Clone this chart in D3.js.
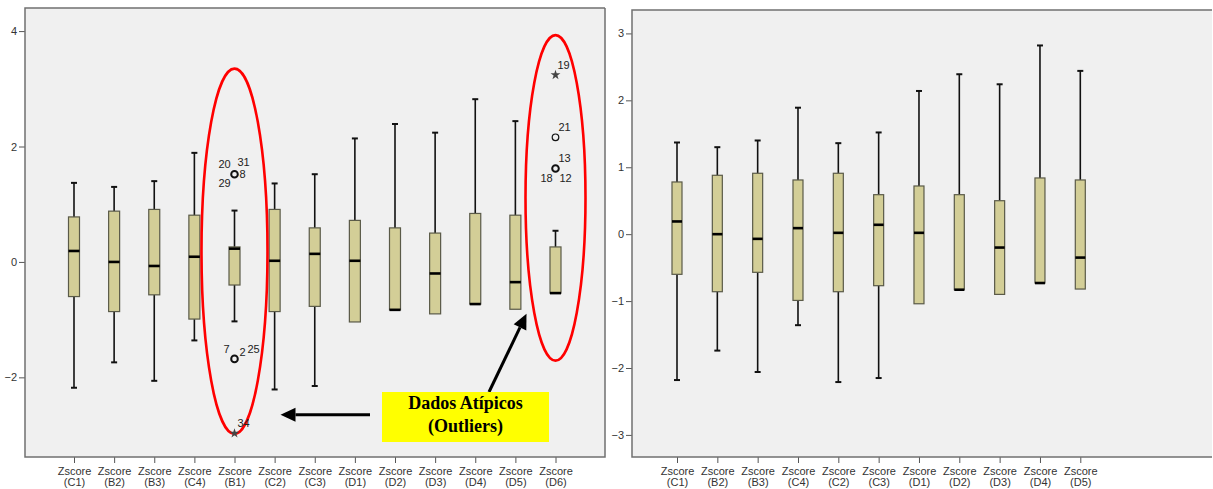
<!DOCTYPE html>
<html>
<head>
<meta charset="utf-8">
<script src="https://cdn.jsdelivr.net/npm/d3@7"></script>
<style>
  body { margin: 0; background: #fff; }
  svg { display: block; font-family: Arial, "Liberation Sans", sans-serif; }
  .tick text { fill: #333; font-size: 11px; }
  .tick line { stroke: #555; }
</style>
</head>
<body>
<div id="chart"></div>
<script>
// box plot statistics (z-scores)
var categories = ["C1", "B2", "B3", "C4", "B1", "C2", "C3", "D1", "D2", "D3", "D4", "D5", "D6"];
var whiskerHigh = [1.37, 1.30, 1.40, 1.89, 0.89, 1.36, 1.52, 2.14, 2.39, 2.24, 2.82, 2.44, 0.54];
var q3 = [0.78, 0.88, 0.91, 0.81, 0.26, 0.91, 0.59, 0.72, 0.59, 0.50, 0.84, 0.81, 0.26];
var median = [0.19, 0.00, -0.07, 0.09, 0.23, 0.02, 0.14, 0.02, -0.83, -0.20, -0.73, -0.35, -0.54];
var q1 = [-0.60, -0.86, -0.57, -0.99, -0.40, -0.86, -0.77, -1.04, -0.83, -0.90, -0.73, -0.82, -0.54];
var whiskerLow = [-2.18, -1.74, -2.06, -1.36, -1.03, -2.21, -2.15, -1.04, -0.83, -0.90, -0.73, -0.82, -0.54];

// right chart drops the two variables with outliers
var rightCategories = ["C1", "B2", "B3", "C4", "C2", "C3", "D1", "D2", "D3", "D4", "D5"];

// outliers (left chart only)
var outlierCat = ["B1", "B1", "B1", "D6", "D6", "D6"];
var outlierValue = [1.52, -1.68, -2.97, 3.24, 2.16, 1.62];
var outlierShape = ["circle", "circle", "star", "star", "circle", "circle"];
var outlierIds = [["20", "31", "8", "29"], ["7", "2", "25"], ["34"], ["19"], ["21"], ["13", "18", "12"]];

var leftTicks = [-2, 0, 2, 4];
var rightTicks = [-3, -2, -1, 0, 1, 2, 3];

// label offsets around each outlier marker (px)
var idOffsets = [
  [[-10, -10], [9, -12], [8, 0], [-10, 9]],
  [[-8, -10], [8, -7], [19, -10]],
  [[9, -10]],
  [[8, -10]],
  [[9, -10]],
  [[9, -10], [-9, 10], [10, 10]]
];

var boxFill = "#d3ce97";
var bg = "#f0f0f0";

var svg = d3.select("#chart").append("svg")
  .attr("width", 1213)
  .attr("height", 489);

var stats = categories.map(function(c, i) {
  return { cat: c, hi: whiskerHigh[i], q3: q3[i], med: median[i], q1: q1[i], lo: whiskerLow[i] };
});

function drawPanel(opts) {
  var g = svg.append("g");
  var x = d3.scalePoint().domain(opts.cats).range(opts.xRange);
  var y = d3.scaleLinear().domain(opts.yDomain).range([opts.bottom, opts.top]);

  g.append("rect")
    .attr("x", opts.left).attr("y", opts.top)
    .attr("width", opts.right - opts.left).attr("height", opts.bottom - opts.top)
    .attr("fill", bg);

  var data = stats.filter(function(d) { return opts.cats.indexOf(d.cat) >= 0; });
  var bw = opts.boxWidth;

  var boxes = g.selectAll(".box").data(data).enter().append("g").attr("class", "box");

  // whiskers
  boxes.append("line")
    .attr("x1", d => x(d.cat)).attr("x2", d => x(d.cat))
    .attr("y1", d => y(d.hi)).attr("y2", d => y(d.q3))
    .attr("stroke", "#111").attr("stroke-width", 1.6);
  boxes.append("line")
    .attr("x1", d => x(d.cat)).attr("x2", d => x(d.cat))
    .attr("y1", d => y(d.q1)).attr("y2", d => y(d.lo))
    .attr("stroke", "#111").attr("stroke-width", 1.6);
  // caps
  boxes.filter(d => d.hi > d.q3).append("line")
    .attr("x1", d => x(d.cat) - 3).attr("x2", d => x(d.cat) + 3)
    .attr("y1", d => y(d.hi)).attr("y2", d => y(d.hi))
    .attr("stroke", "#111").attr("stroke-width", 2);
  boxes.filter(d => d.lo < d.q1).append("line")
    .attr("x1", d => x(d.cat) - 3).attr("x2", d => x(d.cat) + 3)
    .attr("y1", d => y(d.lo)).attr("y2", d => y(d.lo))
    .attr("stroke", "#111").attr("stroke-width", 2);

  boxes.append("rect")
    .attr("x", d => x(d.cat) - bw / 2)
    .attr("y", d => y(d.q3))
    .attr("width", bw)
    .attr("height", d => y(d.q1) - y(d.q3))
    .attr("fill", boxFill)
    .attr("stroke", "#5a5a48")
    .attr("stroke-width", 1.2);

  boxes.append("line")
    .attr("x1", d => x(d.cat) - bw / 2).attr("x2", d => x(d.cat) + bw / 2)
    .attr("y1", d => y(d.med)).attr("y2", d => y(d.med))
    .attr("stroke", "#000").attr("stroke-width", 2.6);

  // y axis
  var yAxis = g.append("g")
    .attr("transform", "translate(" + opts.left + ",0)")
    .call(d3.axisLeft(y).tickValues(opts.ticks).tickSize(6).tickPadding(2).tickFormat(d3.format("d")));
  yAxis.select(".domain").remove();

  // x axis
  var xAxis = g.append("g")
    .attr("transform", "translate(0," + opts.bottom + ")")
    .call(d3.axisBottom(x).tickSize(6).tickFormat(""));
  xAxis.select(".domain").remove();
  xAxis.selectAll(".tick").each(function(d) {
    var t = d3.select(this).append("text")
      .attr("fill", "#333").attr("font-size", "10.5px").attr("text-anchor", "middle");
    t.append("tspan").attr("x", 0).attr("y", 18).text("Zscore");
    t.append("tspan").attr("x", 0).attr("y", 28.5).text("(" + d + ")");
  });

  // frame
  g.append("path")
    .attr("d", "M" + opts.right + "," + opts.top + "H" + opts.left + "V" + opts.bottom + "H" + opts.right + (opts.closeRight ? "V" + opts.top : ""))
    .attr("fill", "none").attr("stroke", "#707070").attr("stroke-width", 1.5);

  return { g: g, x: x, y: y };
}

var L = drawPanel({
  cats: categories, xRange: [74, 555.5], yDomain: [-3.38, 4.4],
  left: 25, right: 605, top: 8, bottom: 457, ticks: leftTicks, boxWidth: 11, closeRight: true
});

var R = drawPanel({
  cats: rightCategories, xRange: [677, 1080.3], yDomain: [-3.33, 3.35],
  left: 632, right: 1212, top: 10, bottom: 457, ticks: rightTicks, boxWidth: 10, closeRight: false
});

// red ellipses around the outliers
var rings = [
  { cat: "B1", top: 3.35, bottom: -2.98, rx: 33 },
  { cat: "D6", top: 3.93, bottom: -1.71, rx: 30 }
];

// outliers
var out = outlierValue.map(function(v, i) {
  return { cat: outlierCat[i], v: v, shape: outlierShape[i], ids: outlierIds[i], off: idOffsets[i] };
});
var og = L.g.selectAll(".outlier").data(out).enter().append("g")
  .attr("class", "outlier")
  .attr("transform", d => "translate(" + L.x(d.cat) + "," + L.y(d.v) + ")");
og.filter(d => d.shape === "circle").append("circle")
  .attr("r", 3.3).attr("fill", "none").attr("stroke", "#111")
  .attr("stroke-width", d => d.ids.length > 1 ? 2 : 1.2);
og.each(function(d) {
  var sel = d3.select(this);
  d.ids.forEach(function(id, k) {
    sel.append("text")
      .attr("x", d.off[k][0]).attr("y", d.off[k][1])
      .attr("dy", "0.35em")
      .attr("text-anchor", "middle")
      .attr("font-size", "11px").attr("fill", "#222")
      .text(id);
  });
});

L.g.selectAll(".ring").data(rings).enter().append("ellipse")
  .attr("cx", d => L.x(d.cat))
  .attr("cy", d => (L.y(d.top) + L.y(d.bottom)) / 2)
  .attr("rx", d => d.rx)
  .attr("ry", d => (L.y(d.bottom) - L.y(d.top)) / 2)
  .attr("fill", "none").attr("stroke", "#f00").attr("stroke-width", 2.6);

// stars drawn above the ring line
og.filter(d => d.shape === "star").append("path")
  .attr("d", d3.symbol().type(d3.symbolStar).size(30))
  .attr("fill", "#444");
og.filter(d => d.shape === "star").raise();

// callout
var note = L.g.append("g");
function arrow(x1, y1, x2, y2) {
  var a = Math.atan2(y2 - y1, x2 - x1), len = 15, hw = 7;
  var bx = x2 - len * Math.cos(a), by = y2 - len * Math.sin(a);
  note.append("line").attr("x1", x1).attr("y1", y1).attr("x2", bx).attr("y2", by)
    .attr("stroke", "#000").attr("stroke-width", 3);
  note.append("path")
    .attr("d", "M" + x2 + "," + y2 +
      "L" + (bx + hw * Math.sin(a)) + "," + (by - hw * Math.cos(a)) +
      "L" + (bx - hw * Math.sin(a)) + "," + (by + hw * Math.cos(a)) + "Z")
    .attr("fill", "#000");
}
arrow(370, L.y(-2.65), L.x("B1") + 46, L.y(-2.65));
arrow(489, 392, L.x("D6") - 29, L.y(-0.9));

note.append("rect")
  .attr("x", 382).attr("y", 392).attr("width", 167).attr("height", 50)
  .attr("fill", "#ffff00");
var nt = note.append("text")
  .attr("text-anchor", "middle")
  .attr("font-family", "'Times New Roman', 'Liberation Serif', serif")
  .attr("font-weight", "bold").attr("font-size", "18px").attr("fill", "#000");
nt.append("tspan").attr("x", 465.5).attr("y", 409).text("Dados Atípicos");
nt.append("tspan").attr("x", 465.5).attr("y", 432).text("(Outliers)");
</script>
</body>
</html>
